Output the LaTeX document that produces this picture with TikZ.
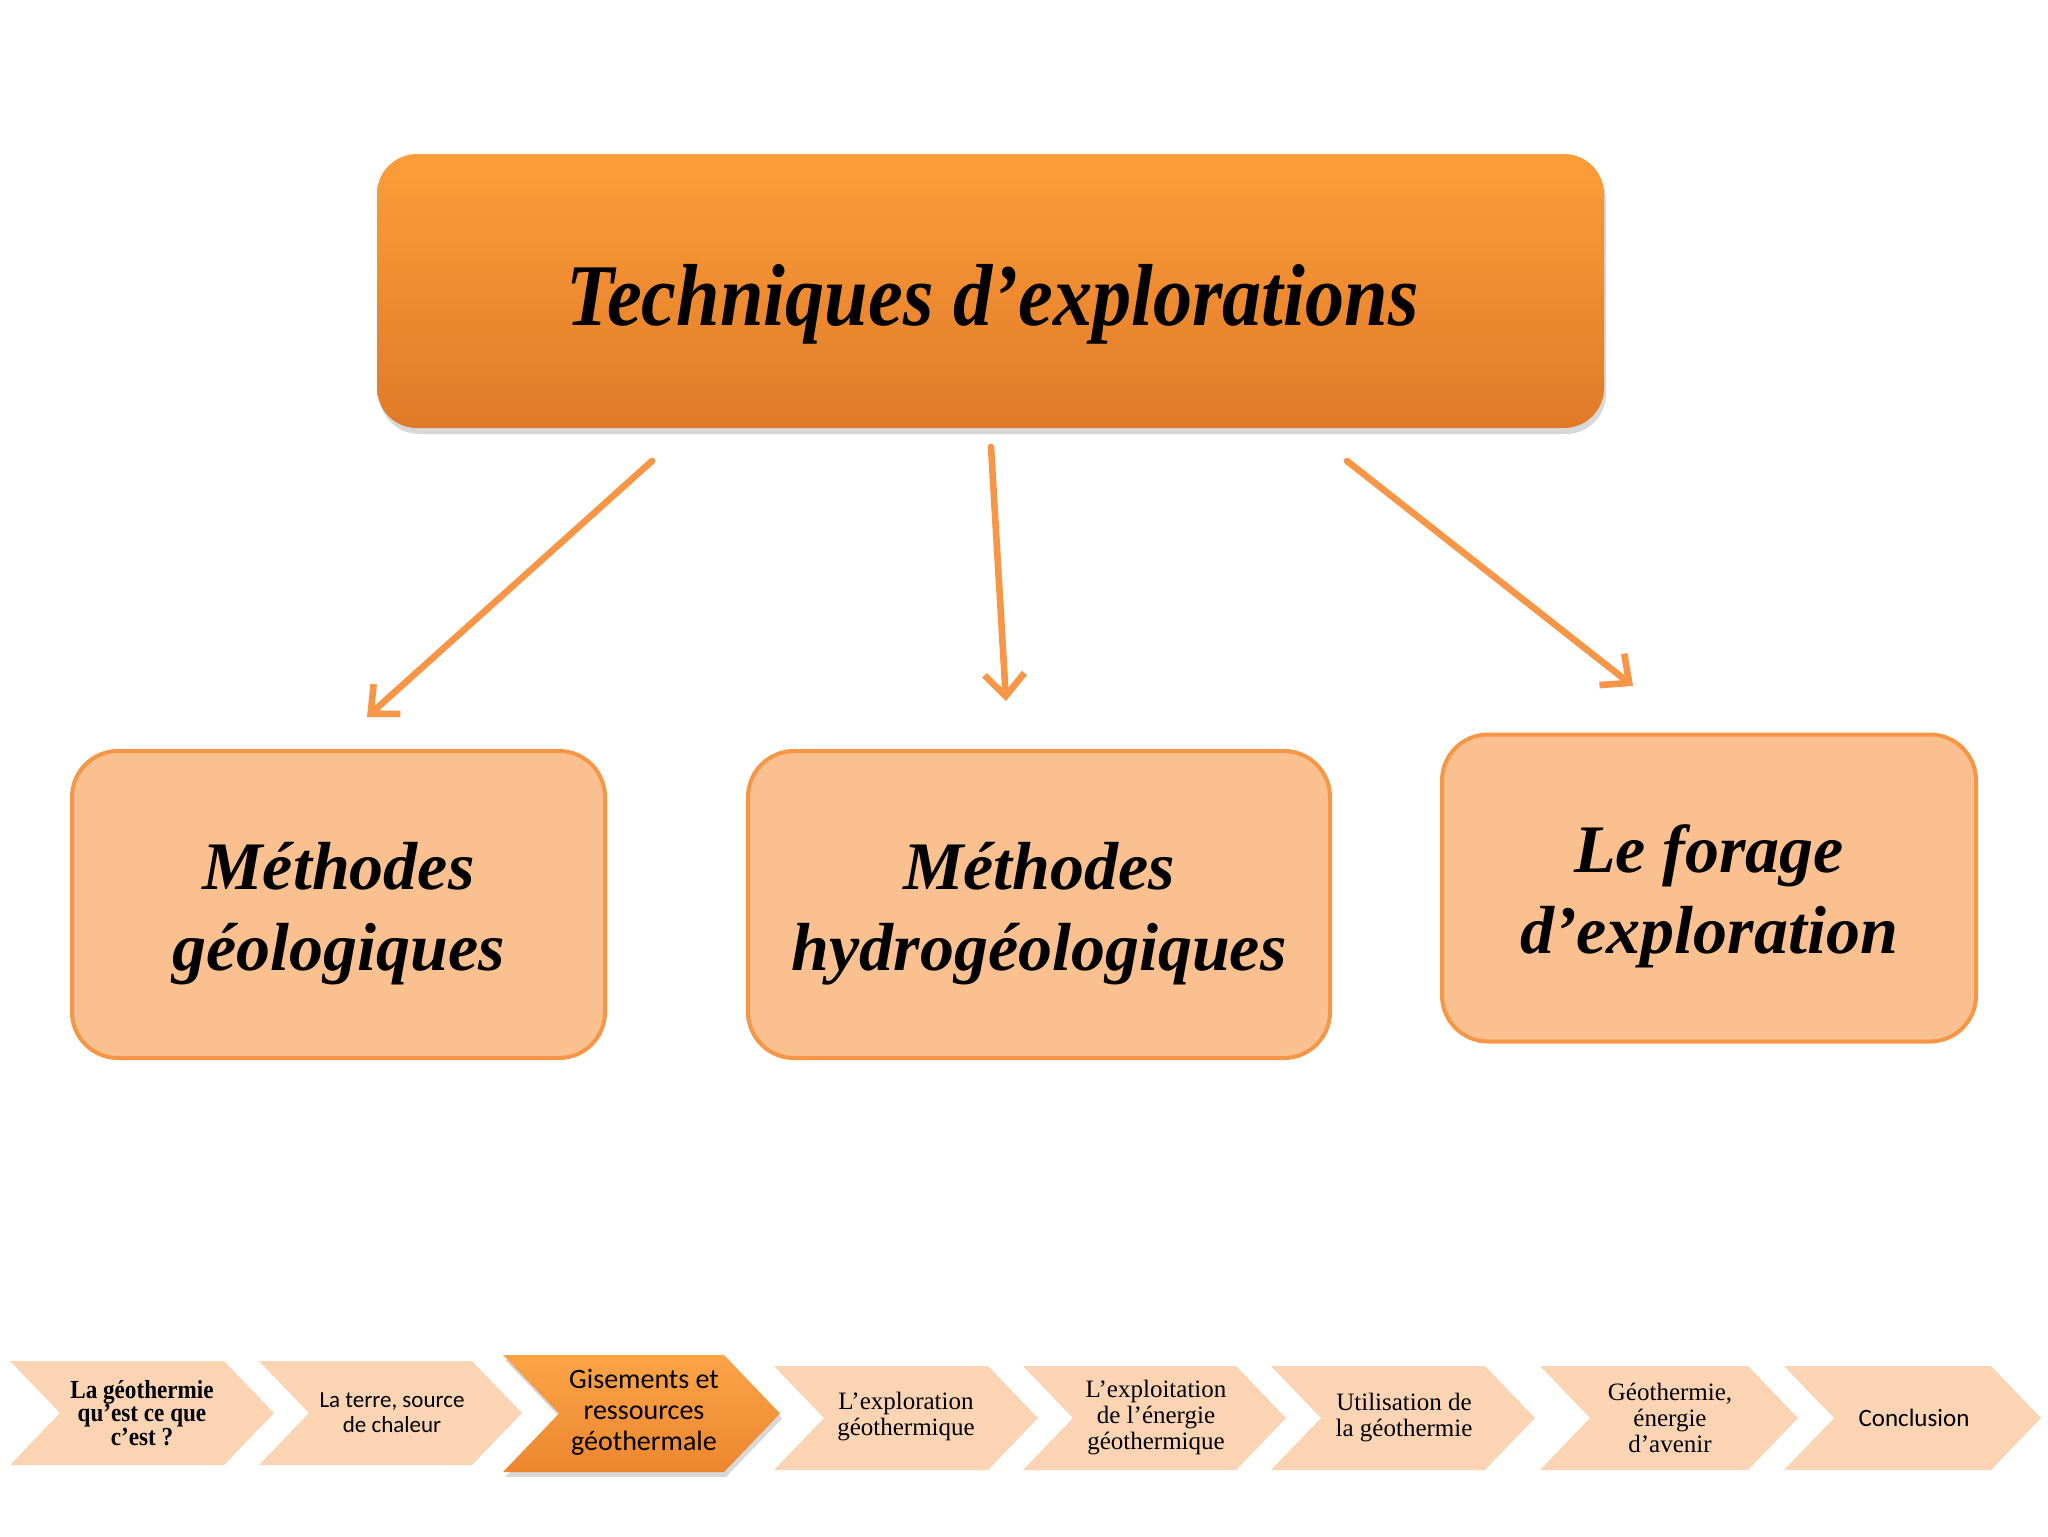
\documentclass[tikz,border=0pt]{standalone}
\usepackage{fontspec}
\setmainfont{Liberation Serif}
\setsansfont{Carlito}
\newfontfamily\condserif[FakeStretch=0.89]{Liberation Serif}
\usetikzlibrary{arrows.meta,shadows,calc}
\definecolor{accent}{HTML}{F79646}
\definecolor{boxfill}{HTML}{FAC090}
\definecolor{chevfill}{HTML}{FBD4B4}
\definecolor{toptop}{HTML}{FD9D3A}
\definecolor{topbot}{HTML}{E07A28}
\definecolor{hitop}{HTML}{FBA447}
\definecolor{hibot}{HTML}{EC862F}
\tikzset{
 topbox/.style={rounded corners=20pt, top color=toptop, bottom color=topbot, draw=none,
   minimum width=613.5pt, minimum height=137pt,
   drop shadow={opacity=0.3, shadow xshift=1pt, shadow yshift=-3pt}},
 toptext/.style={font=\condserif\bfseries\itshape\fontsize{44}{50}\selectfont, align=center},
 subbox/.style={rounded corners=23pt, fill=boxfill, draw=accent, line width=2pt,
   minimum height=153.5pt},
 subtext/.style={align=center, font=\bfseries\itshape\fontsize{34}{40.5}\selectfont},
 link/.style={draw=accent, line width=3.3pt, line cap=round,
   -{Straight Barb[length=11pt,width=20pt,line width=3.3pt]}},
 chevplain/.style={fill=chevfill},
 chevhi/.style={top color=hitop, bottom color=hibot,
   drop shadow={opacity=0.3, shadow xshift=1pt, shadow yshift=-2.5pt}},
 chevtext/.style={align=center, inner sep=0pt},
 tserif/.style={font=\fontsize{12.5}{13}\selectfont},
}
\newcommand\mkchev[6]{%
  \path[#6] (#1,#3) -- ({#2-#5},#3) -- (#2,{(#3+#4)/2}) -- ({#2-#5},#4) -- (#1,#4) -- ({#1+#5},{(#3+#4)/2}) -- cycle;}
\begin{document}
\begin{tikzpicture}[x=0.5pt,y=-0.5pt]
\useasboundingbox[fill=white] (0,0) rectangle (2048,1536);

% top box
\node[topbox] (top) at (990.5,291) {};
\node[toptext] (toptxt) at ($(top.center)+(2,13)$) {Techniques d’explorations};

% sub boxes
\node[subbox, minimum width=266.5pt] (geo) at (338.5,904.5) {};
\node[subbox, minimum width=291pt] (hydro) at (1039,904.5) {};
\node[subbox, minimum width=267pt] (forage) at (1709,888) {};
\node[subtext] (geotxt) at ($(geo.center)+(0,9)$) {Méthodes\\géologiques};
\node[subtext] (hydrotxt) at ($(hydro.center)+(0,9)$) {Méthodes\\hydrogéologiques};
\node[subtext] (foragetxt) at ($(forage.center)+(0,8)$) {Le forage\\d’exploration};

% arrows
\coordinate (a1s) at (652,461); \coordinate (a1e) at (367,717);
\coordinate (a2s) at (991,447); \coordinate (a2e) at (1006,701);
\coordinate (a3s) at (1347,461); \coordinate (a3e) at (1633,686);
\draw[link] (a1s) -- (a1e);
\draw[link] (a2s) -- (a2e);
\draw[link] (a3s) -- (a3e);

% chevrons
\mkchev{10}{274}{1361}{1465}{50}{chevplain}
\mkchev{259}{522}{1361}{1465}{50}{chevplain}
\mkchev{774}{1038}{1366}{1470}{50}{chevplain}
\mkchev{1023}{1286}{1366}{1470}{50}{chevplain}
\mkchev{1271}{1535}{1366}{1470}{50}{chevplain}
\mkchev{1540}{1798}{1366}{1470}{50}{chevplain}
\mkchev{1784}{2041}{1366}{1470}{50}{chevplain}
\mkchev{503}{780}{1355}{1472}{56}{chevhi}

\node[chevtext, font=\condserif\bfseries\fontsize{13}{11.8}\selectfont] (c1) at (142,1413) {La géothermie\\qu’est ce que\\c’est ?};
\node[chevtext, font=\sffamily\fontsize{11.5}{12.5}\selectfont] (c2) at (392,1412.5) {La terre, source\\de chaleur};
\node[chevtext, font=\sffamily\fontsize{14}{15.5}\selectfont] (c3) at (644,1412) {Gisements et\\ressources\\géothermale};
\node[chevtext, tserif] (c4) at (906,1417) {L’exploration\\géothermique};
\node[chevtext, tserif] (c5) at (1156,1418) {L’exploitation\\de l’énergie\\géothermique};
\node[chevtext, tserif] (c6) at (1404,1418) {Utilisation de\\la géothermie};
\node[chevtext, tserif] (c7) at (1670,1418) {Géothermie,\\énergie\\d’avenir};
\node[chevtext, font=\sffamily\fontsize{12.5}{13}\selectfont] (c8) at (1914,1418) {Conclusion};
\end{tikzpicture}
\end{document}
